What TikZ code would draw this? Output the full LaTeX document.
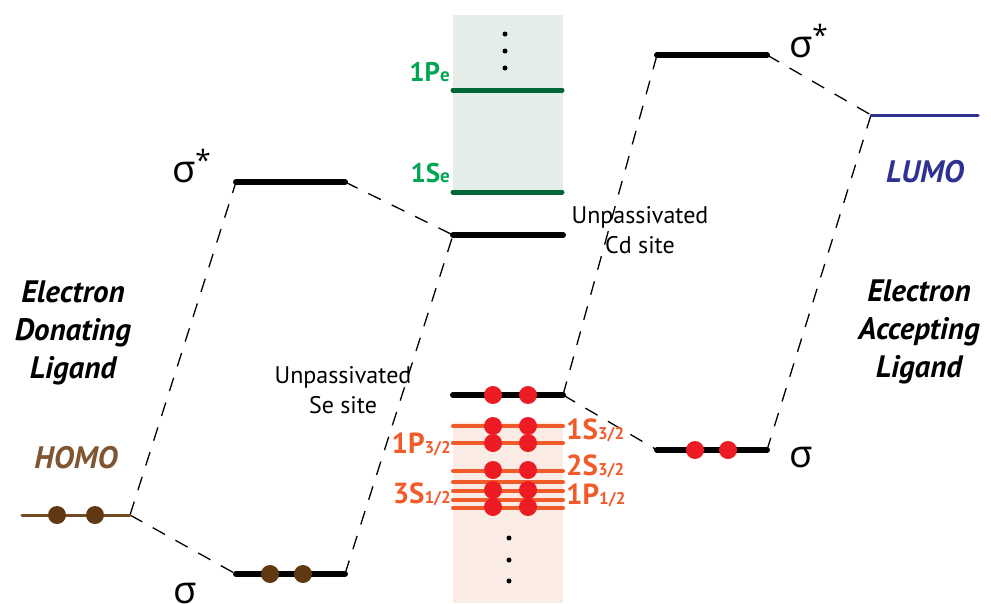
\documentclass[tikz,border=0pt]{standalone}
\usepackage{fontspec}
\setmainfont{PT Sans}
\newfontfamily\grk{Open Sans}
\definecolor{orangeL}{RGB}{241,90,41}
\definecolor{redD}{RGB}{237,28,36}
\definecolor{pinkBG}{RGB}{251,235,229}
\definecolor{greenBG}{RGB}{228,237,232}
\definecolor{greenL}{RGB}{0,104,56}
\definecolor{greenT}{RGB}{0,166,81}
\definecolor{brownD}{RGB}{96,57,19}
\definecolor{brownL}{RGB}{117,76,36}
\definecolor{brownT}{RGB}{128,86,50}
\definecolor{blueL}{RGB}{46,49,146}
\newcommand\smallsub[1]{{\fontsize{17}{17}\selectfont #1}}
\newcommand\esub[1]{{\fontsize{19}{19}\selectfont #1}}
\begin{document}
\begin{tikzpicture}[x=1pt,y=-1pt,
  lvl/.style={line width=6pt, line cap=round, black},
  glvl/.style={line width=5pt, line cap=round, greenL},
  olvl/.style={line width=4pt, line cap=round, orangeL},
  thinlvl/.style={line width=3pt, line cap=round},
  dashline/.style={dash pattern=on 14pt off 12pt, line width=1.3pt},
  edot/.style={circle, fill=#1, inner sep=0pt, minimum size=18pt},
  vdot/.style={circle, fill=black, inner sep=0pt, minimum size=5pt},
  big/.style={font=\bfseries\itshape\fontsize{31}{38}\selectfont, align=center, anchor=base},
  site/.style={font=\fontsize{24}{30}\selectfont, align=center, anchor=base},
  olab/.style={font=\bfseries\fontsize{29}{29}\selectfont, text=orangeL, inner sep=0pt},
  glab/.style={font=\bfseries\fontsize{27}{27}\selectfont, text=greenT, inner sep=0pt},
  sig/.style={font=\grk\fontsize{38}{38}\selectfont, anchor=base west, inner sep=0pt}
]
\useasboundingbox (0,0) rectangle (991,603);
% background boxes
\fill[greenBG] (453,15) rectangle (563,193);
\fill[pinkBG] (453,422) rectangle (563,603);

% level end coordinates
\coordinate (homoL) at (22,515);  \coordinate (homoR) at (130,515);
\coordinate (lssL) at (236,182);  \coordinate (lssR) at (345,182);
\coordinate (lsL) at (236,574);   \coordinate (lsR) at (345,574);
\coordinate (cdL) at (453,235);   \coordinate (cdR) at (563,235);
\coordinate (seL) at (453,395);   \coordinate (seR) at (563,395);
\coordinate (rssL) at (657,55);   \coordinate (rssR) at (767,55);
\coordinate (rsL) at (657,450);   \coordinate (rsR) at (767,450);
\coordinate (lumoL) at (871,115); \coordinate (lumoR) at (978,115);
\coordinate (peL) at (453,90);    \coordinate (peR) at (562,90);
\coordinate (seeL) at (453,192);  \coordinate (seeR) at (562,192);

% dashed connectors
\draw[dashline] (homoR) -- (lssL);
\draw[dashline] (homoR) -- (lsL);
\draw[dashline] (lssR) -- (cdL);
\draw[dashline] (lsR) -- (cdL);
\draw[dashline] (seR) -- (rssL);
\draw[dashline] (seR) -- (rsL);
\draw[dashline] (rssR) -- (lumoL);
\draw[dashline] (lumoL) -- (rsR);

% levels
\draw[thinlvl, brownL] (homoL) -- (homoR);
\draw[lvl] (lssL) -- (lssR);
\draw[lvl] (lsL) -- (lsR);
\draw[lvl] (cdL) -- (cdR);
\draw[lvl] (seL) -- (seR);
\draw[lvl] (rssL) -- (rssR);
\draw[lvl] (rsL) -- (rsR);
\draw[thinlvl, blueL] (lumoL) -- (lumoR);
\draw[glvl] (peL) -- (peR);
\draw[glvl] (seeL) -- (seeR);
\foreach \y in {426,443,471,482,491,500,508}
  \draw[olvl] (453,\y) -- (563,\y);

% electrons
\node[edot=brownD] (h1) at (57,515) {};
\node[edot=brownD] (h2) at (95,515) {};
\node[edot=brownD] (b1) at (270,574) {};
\node[edot=brownD] (b2) at (303,574) {};
\node[edot=redD] (r1) at (695,450) {};
\node[edot=redD] (r2) at (728,450) {};
\node[edot=redD] (s1) at (493,395) {};
\node[edot=redD] (s2) at (528,395) {};
\foreach \y/\n in {426/a,443/b,470/c,490/d,507/e}{
  \node[edot=redD] (q1\n) at (493,\y) {};
  \node[edot=redD] (q2\n) at (528,\y) {};
}

% vertical ellipses
\node[vdot] (g1) at (505,34) {};
\node[vdot] (g2) at (505,51) {};
\node[vdot] (g3) at (505,68) {};
\node[vdot] (p1) at (509,538) {};
\node[vdot] (p2) at (509,560) {};
\node[vdot] (p3) at (509,581) {};

% sigma labels
\node[sig] (tss1) at (172,182) {σ\raisebox{12pt}{\fontsize{28}{28}\selectfont *}};
\node[sig] (ts1) at (173,603) {σ};
\node[sig] (tss2) at (789,57) {σ\raisebox{12pt}{\fontsize{28}{28}\selectfont *}};
\node[sig] (ts2) at (789,467) {σ};

% big labels (base = last line)
\node[big] (don) at (73,378) {Electron\\Donating\\Ligand};
\node[big] (acc) at (919,377) {Electron\\Accepting\\Ligand};
\node[big, text=brownT] (homo) at (76,468) {HOMO};
\node[big, text=blueL] (lumo) at (925,182) {LUMO};
\node[site] (cds) at (640,253) {Unpassivated\\Cd site};
\node[site] (ses) at (343,413) {Unpassivated\\Se site};

% green labels
\node[glab, anchor=base east] (l1pe) at (450,81) {1P\esub{e}};
\node[glab, anchor=base east] (l1se) at (450,182) {1S\esub{e}};

% orange labels
\node[olab, anchor=base east] (l1p32) at (451,453) {1P\smallsub{3/2}};
\node[olab, anchor=base east] (l3s12) at (451,503) {3S\smallsub{1/2}};
\node[olab, anchor=base west] (l1s32) at (566,439) {1S\smallsub{3/2}};
\node[olab, anchor=base west] (l2s32) at (566,475) {2S\smallsub{3/2}};
\node[olab, anchor=base west] (l1p12) at (566,504) {1P\smallsub{1/2}};
\end{tikzpicture}
\end{document}
